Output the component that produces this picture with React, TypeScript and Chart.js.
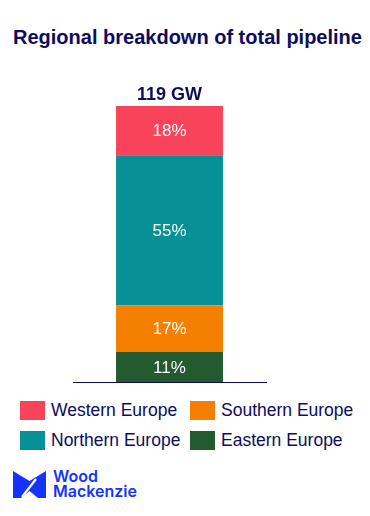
import React, { useEffect, useRef } from "react";
import { Chart, registerables } from "chart.js";

Chart.register(...registerables);

const categories = ["Total pipeline"];
const seriesNames = ["Eastern Europe", "Southern Europe", "Northern Europe", "Western Europe"];
const easternEurope = [11];
const southernEurope = [17];
const northernEurope = [55];
const westernEurope = [18];
const totalLabel = "119 GW";
const seriesColors = ["#235a2e", "#f57f00", "#079196", "#f9435a"];
const legendOrder = ["Western Europe", "Southern Europe", "Northern Europe", "Eastern Europe"];

const NAVY = "#0c0c60";
const FONT = "'Liberation Sans', Arial, sans-serif";

export default function App() {
  const ref = useRef<HTMLCanvasElement | null>(null);
  useEffect(() => {
    if (!ref.current) return;
    const values = [easternEurope, southernEurope, northernEurope, westernEurope];
    const total = values.reduce((s, v) => s + v[0], 0);
    const labelPlugin = {
      id: "labels",
      afterDatasetsDraw(chart: any) {
        const ctx = chart.ctx;
        ctx.save();
        ctx.textAlign = "center";
        ctx.textBaseline = "middle";
        let topY = Infinity;
        let cx = 0;
        chart.data.datasets.forEach((ds: any, i: number) => {
          const meta = chart.getDatasetMeta(i);
          meta.data.forEach((el: any, j: number) => {
            const v = ds.data[j];
            const y = (el.y + el.base) / 2;
            cx = el.x;
            topY = Math.min(topY, el.y);
            ctx.fillStyle = "#ffffff";
            ctx.font = `17px ${FONT}`;
            ctx.fillText(`${v}%`, el.x, y + 1);
          });
        });
        ctx.fillStyle = NAVY;
        ctx.font = `bold 18px ${FONT}`;
        ctx.textBaseline = "alphabetic";
        ctx.fillText(totalLabel, cx, topY - 6);
        ctx.restore();
      },
    };
    const chart = new Chart(ref.current, {
      type: "bar",
      data: {
        labels: categories,
        datasets: seriesNames.map((name, i) => ({
          label: name,
          data: values[i],
          backgroundColor: seriesColors[i],
          borderWidth: 0,
          categoryPercentage: 1,
          barPercentage: 0.554,
        })),
      },
      options: {
        animation: false,
        responsive: false,
        maintainAspectRatio: false,
        layout: { padding: { left: 73, right: 104, top: 46, bottom: 8 } },
        plugins: { legend: { display: false }, tooltip: { enabled: false }, title: { display: false } },
        scales: {
          x: {
            stacked: true,
            ticks: { display: false },
            grid: { display: false, drawTicks: false },
            border: { display: true, color: NAVY, width: 1 },
          },
          y: {
            stacked: true,
            display: false,
            min: 0,
            max: total,
          },
        },
      },
      plugins: [labelPlugin],
    });
    return () => chart.destroy();
  }, []);

  const sq = (c: string) => (
    <span style={{ display: "inline-block", width: 25, height: 19, background: c, marginRight: 6, verticalAlign: "middle", flex: "none" }} />
  );
  const colorOf = (n: string) => seriesColors[seriesNames.indexOf(n)];

  return (
    <div style={{ position: "absolute", left: 0, top: 0, width: 370, height: 516, background: "#fff", fontFamily: FONT, overflow: "hidden" }}>
      <div style={{ position: "absolute", top: 25, left: 0, width: 375, textAlign: "center", fontWeight: "bold", fontSize: 20, lineHeight: "24px", color: NAVY, whiteSpace: "nowrap" }}>
        Regional breakdown of total pipeline
      </div>
      <canvas ref={ref} width={370} height={330} style={{ position: "absolute", left: 0, top: 60, width: 370, height: 330 }} />
      {legendOrder.map((n, i) => (
        <div key={n} style={{ position: "absolute", left: i % 2 === 0 ? 20 : 190, top: 401 + Math.floor(i / 2) * 30, height: 19, display: "flex", alignItems: "center", fontSize: 17.5, color: NAVY, whiteSpace: "nowrap" }}>
          {sq(colorOf(n))}
          {n}
        </div>
      ))}
      <svg style={{ position: "absolute", left: 13, top: 471 }} width={33} height={27} viewBox="0 0 33 27">
        <polygon points="0,0 16.5,10 33,0 33,27 25,27 16.5,20 8,27 0,27" fill="#1433ff" />
        <line x1={23} y1={8} x2={9} y2={26} stroke="#ffffff" strokeWidth={2.2} />
      </svg>
      <div style={{ position: "absolute", left: 53, top: 469, color: "#1433ff", fontSize: 16, fontWeight: 600, lineHeight: "15px", fontFamily: "Inter, sans-serif" }}>
        Wood<br />Mackenzie
      </div>
    </div>
  );
}
